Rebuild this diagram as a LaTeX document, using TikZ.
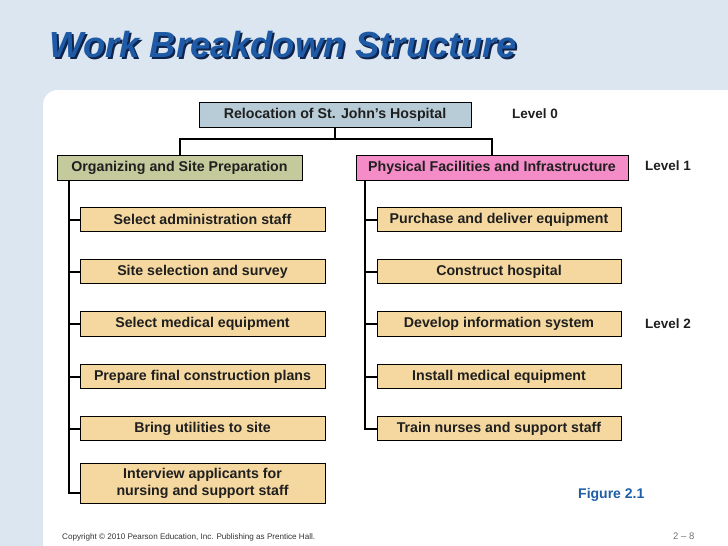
\documentclass[tikz,border=0pt]{standalone}
\usepackage{fontspec}
\setmainfont{Liberation Sans}
\definecolor{bgblue}{RGB}{220,230,240}
\definecolor{rootfill}{RGB}{184,204,216}
\definecolor{orgfill}{RGB}{196,202,156}
\definecolor{physfill}{RGB}{244,140,200}
\definecolor{taskfill}{RGB}{245,216,160}
\definecolor{titleblue}{RGB}{30,90,165}
\definecolor{shadowblue}{RGB}{15,35,75}
\definecolor{figblue}{RGB}{30,95,165}
\begin{document}
\begin{tikzpicture}[x=1pt,y=-1pt,
  box/.style={draw=black,line width=0.9pt,inner sep=0pt,font=\fontsize{14.2}{17}\selectfont\bfseries,text=black!88,align=center,minimum height=24.5},
  rootbox/.style={box,fill=rootfill,minimum width=272},
  orgbox/.style={box,fill=orgfill,minimum width=245},
  physbox/.style={box,fill=physfill,minimum width=272},
  taskL/.style={box,fill=taskfill,minimum width=245},
  taskR/.style={box,fill=taskfill,minimum width=244},
  conn/.style={line width=2pt,black},
  lvl/.style={font=\fontsize{13.5}{16}\selectfont\bfseries,anchor=west,inner sep=0pt,text=black!88}]
\useasboundingbox (0,0) rectangle (728,546);
\fill[bgblue] (0,0) rectangle (728,546);
\fill[white,rounded corners=15] (43,90) rectangle (760,580);
% title
\node[anchor=base west,inner sep=0pt,text=shadowblue,font=\fontsize{36.3}{40}\selectfont\bfseries\itshape] (tshadow) at (51.5,59.5) {Work Breakdown Structure};
\node[anchor=base west,inner sep=0pt,text=titleblue,font=\fontsize{36.3}{40}\selectfont\bfseries\itshape] (title) at (49.5,57.5) {Work Breakdown Structure};
% level 0 and 1
\node[rootbox] (root) at (335,115) {Relocation of St. John’s Hospital};
\node[orgbox] (org) at (179.5,168) {Organizing and Site Preparation};
\node[physbox] (phys) at (492,168) {Physical Facilities and Infrastructure};
\node[lvl] (lv0) at (512,114) {Level 0};
\node[lvl] (lv1) at (645,166) {Level 1};
\node[lvl] (lv2) at (645,324) {Level 2};
% level 2 left
\node[taskL] (a1) at (202.5,219.5) {Select administration staff};
\node[taskL] (a2) at (202.5,271.5) {Site selection and survey};
\node[taskL] (a3) at (202.5,324) {Select medical equipment};
\node[taskL] (a4) at (202.5,376.5) {Prepare final construction plans};
\node[taskL] (a5) at (202.5,428.5) {Bring utilities to site};
\node[taskL,minimum height=40,font=\fontsize{14.2}{17}\selectfont\bfseries] (a6) at (202.5,483) {Interview applicants for\\nursing and support staff};
% level 2 right
\node[taskR] (b1) at (499,219.5) {Purchase and deliver equipment};
\node[taskR] (b2) at (499,271.5) {Construct hospital};
\node[taskR] (b3) at (499,324) {Develop information system};
\node[taskR] (b4) at (499,376.5) {Install medical equipment};
\node[taskR] (b5) at (499,428.5) {Train nurses and support staff};
% connectors
\coordinate (sl) at (69,0);
\coordinate (sr) at (365,0);
\coordinate (t6) at ([yshift=-10pt]a6.west);
\draw[conn] (root.south) -- ++(0,11) -| (org.north);
\draw[conn] (root.south) -- ++(0,11) -| (phys.north);
\draw[conn] (org.south -| sl) -- (sl |- t6) -- (t6);
\foreach \n in {a1,a2,a3,a4,a5} \draw[conn] (sl |- \n.west) -- (\n.west);
\draw[conn] (phys.south -| sr) -- (sr |- b5.west) -- (b5.west);
\foreach \n in {b1,b2,b3,b4} \draw[conn] (sr |- \n.west) -- (\n.west);
% footer
\node[anchor=west,inner sep=0pt,text=figblue,font=\fontsize{14}{16}\selectfont\bfseries] (fig) at (578,495) {Figure 2.1};
\node[anchor=west,inner sep=0pt,text=black!80,font=\fontsize{8.1}{10}\selectfont] (copy) at (62,537) {Copyright © 2010 Pearson Education, Inc. Publishing as Prentice Hall.};
\node[anchor=west,inner sep=0pt,text=black!55,font=\fontsize{9.5}{11}\selectfont] (pg) at (673,536) {2 – 8};
\end{tikzpicture}
\end{document}
